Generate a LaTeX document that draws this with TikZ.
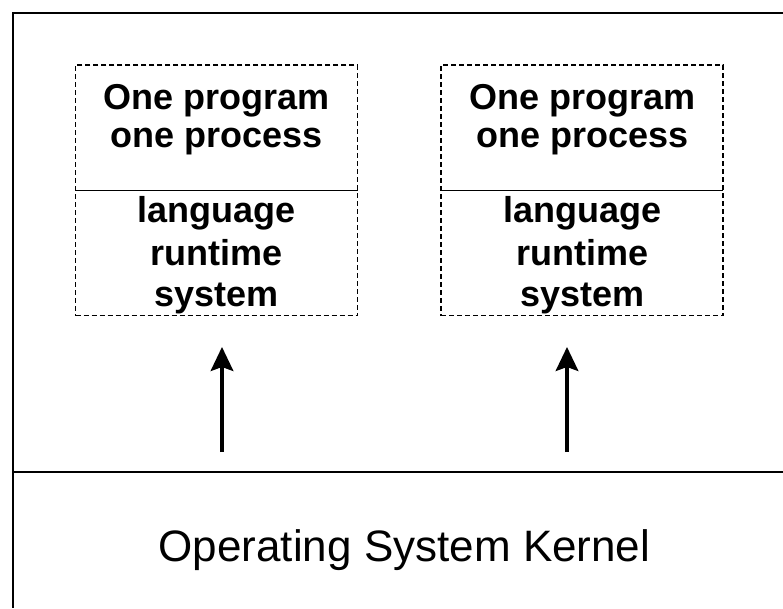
\documentclass[tikz,border=0pt]{standalone}
\usepackage{fontspec}
\setmainfont{Liberation Sans}
\usetikzlibrary{arrows.meta}
\begin{document}
\begin{tikzpicture}[x=0.75pt,y=-0.75pt,
  frame/.style={line width=1.5pt},
  appbox/.style={draw, dash pattern=on 3.75pt off 2.25pt, line width=1.1pt,
    minimum width=211.5pt, minimum height=188pt, inner sep=0pt},
  divider/.style={line width=1.1pt},
  lbl/.style={anchor=base, inner sep=0pt, font=\bfseries\fontsize{27}{30}\selectfont},
  kern/.style={anchor=base, inner sep=0pt, font=\fontsize{33}{36}\selectfont},
  uparrow/.style={line width=2.4pt, -{Stealth[length=18pt,width=17pt,inset=3pt]}}]
\useasboundingbox (0,0) rectangle (783,608);

% outer frame and kernel separator
\draw[frame] (783,13) -- (13,13) -- (13,608);
\draw[frame] (13,472) -- (783,472);

% two program / runtime stacks, each fed by the kernel
\foreach \cx/\ax/\n in {216.7/222/1, 582.2/567/2}{
  \node[appbox] (app\n) at (\cx,190.35) {};
  \draw[divider] (\cx-141,190.7) -- (\cx+141,190.7);
  \node[lbl] (prog\n-a) at (\cx,109) {One program};
  \node[lbl] (prog\n-b) at (\cx,147) {one process};
  \node[lbl] (rts\n-a) at (\cx,222) {language};
  \node[lbl] (rts\n-b) at (\cx,265) {runtime};
  \node[lbl] (rts\n-c) at (\cx,306) {system};
  \coordinate (tail\n) at (\ax,452);
  \coordinate (head\n) at (\ax,347);
  \draw[uparrow] (tail\n) -- (head\n);
}

\node[kern] (kernel) at (404.5,561.5) {Operating System Kernel};
\end{tikzpicture}
\end{document}
